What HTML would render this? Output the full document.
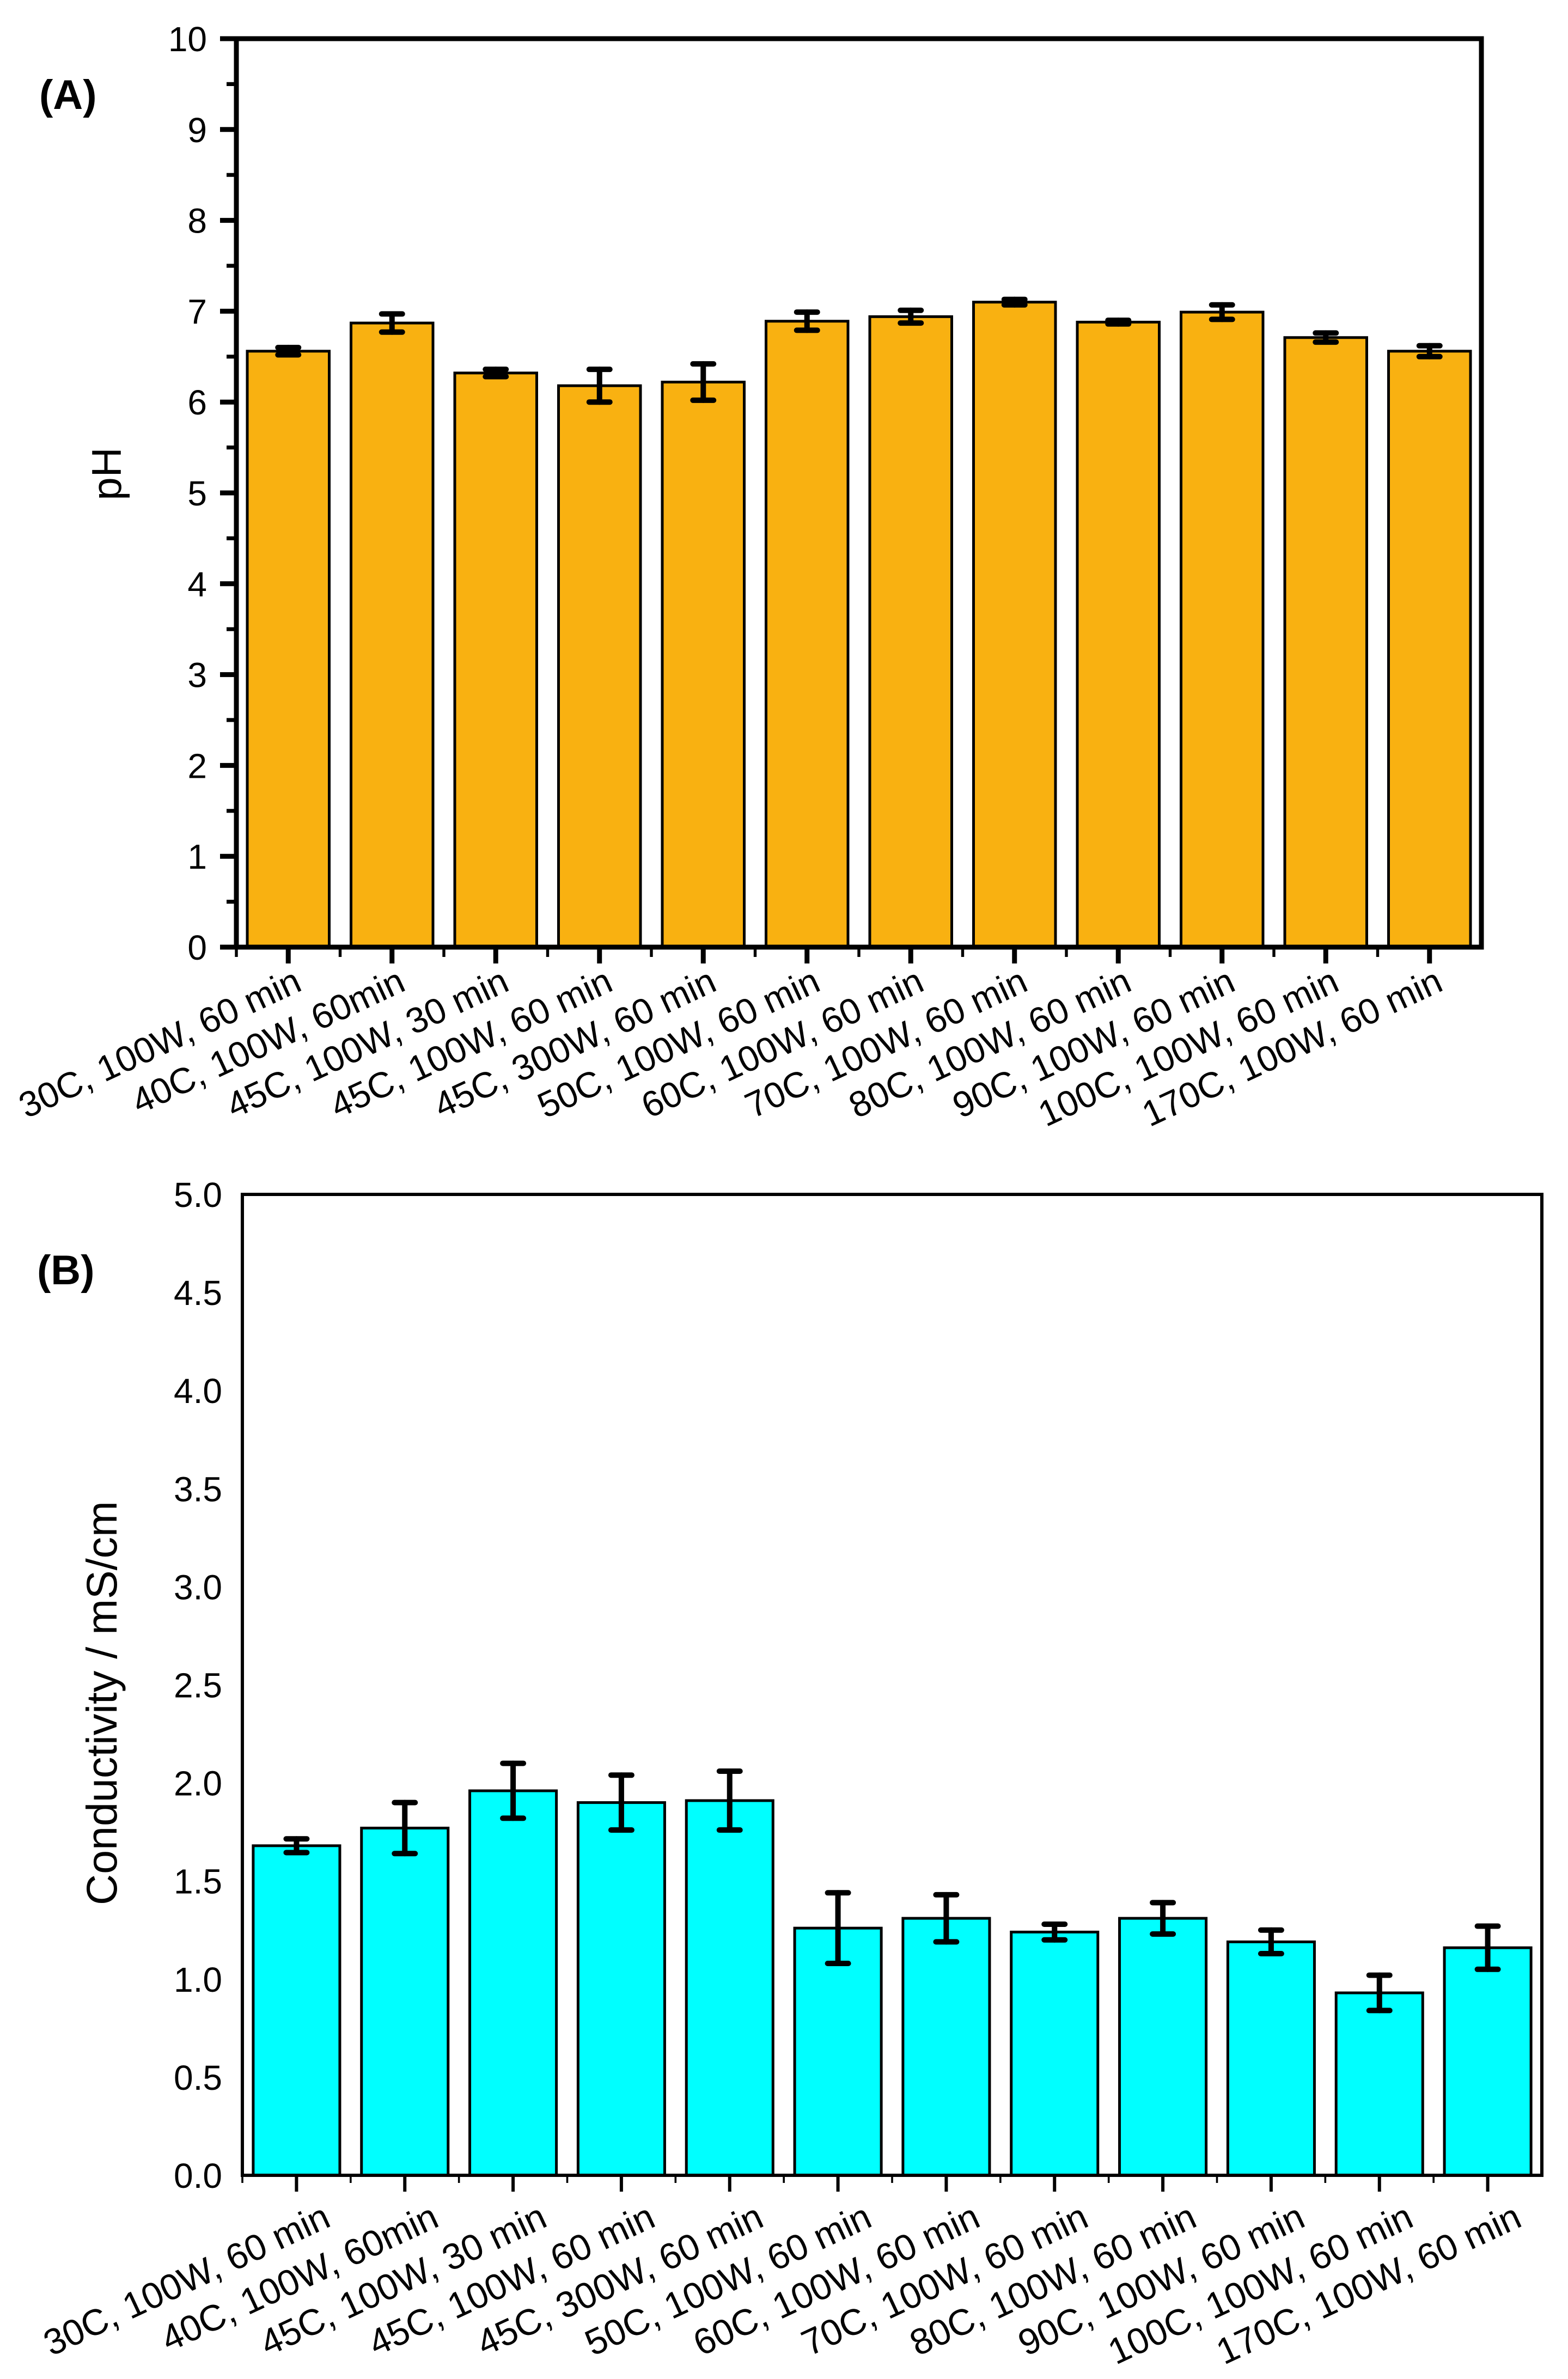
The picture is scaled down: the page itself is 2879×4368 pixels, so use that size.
<!DOCTYPE html>
<html><head><meta charset="utf-8"><style>
html,body{margin:0;padding:0;background:#fff;}
svg{display:block;font-family:"Liberation Sans",Arial,sans-serif;}
</style></head><body>
<svg id="fig" width="2879" height="4368" viewBox="0 0 2879 4368" xmlns="http://www.w3.org/2000/svg">
<g id="pa"></g>
<g id="pb"></g>
</svg>
<script>
const categories = ["30C, 100W, 60 min","40C, 100W, 60min","45C, 100W, 30 min","45C, 100W, 60 min","45C, 300W, 60 min","50C, 100W, 60 min","60C, 100W, 60 min","70C, 100W, 60 min","80C, 100W, 60 min","90C, 100W, 60 min","100C, 100W, 60 min","170C, 100W, 60 min"];
const phValues = [6.56,6.87,6.32,6.18,6.22,6.89,6.94,7.10,6.88,6.99,6.71,6.56];
const phErrors = [0.04,0.10,0.04,0.18,0.20,0.10,0.07,0.03,0.02,0.08,0.05,0.06];
const phTicks = ["0","1","2","3","4","5","6","7","8","9","10"];
const condValues = [1.68,1.77,1.96,1.90,1.91,1.26,1.31,1.24,1.31,1.19,0.93,1.16];
const condErrors = [0.035,0.13,0.14,0.14,0.15,0.18,0.12,0.04,0.08,0.06,0.09,0.11];
const condTicks = ["0.0","0.5","1.0","1.5","2.0","2.5","3.0","3.5","4.0","4.5","5.0"];

const NS="http://www.w3.org/2000/svg";
function mk(parent,tag,attrs,text){const e=document.createElementNS(NS,tag);for(const k in attrs)e.setAttribute(k,attrs[k]);if(text!==undefined)e.textContent=text;parent.appendChild(e);return e;}

function drawChart(g,cfg,values,errors,ticks){
  const n=values.length;
  const pitch=(cfg.x1-cfg.x0)/n;
  const xc=i=>cfg.x0+pitch*(i+0.5);
  const yv=v=>cfg.y0-(v-cfg.vmin)/(cfg.vmax-cfg.vmin)*(cfg.y0-cfg.y1);
  for(let i=0;i<n;i++){
    const bw=pitch*cfg.bwFrac;
    const r=mk(g,'rect',{x:xc(i)-bw/2,y:yv(values[i]),width:bw,height:cfg.y0-yv(values[i]),fill:cfg.color,stroke:'#000','stroke-width':cfg.barStroke});
    
    
  }
  for(let i=0;i<n;i++){
    const eg=mk(g,'g',{stroke:'#000','stroke-width':cfg.errW,'stroke-linecap':'round'});
    
    
    const t=yv(values[i]+errors[i]),b=yv(values[i]-errors[i]),x=xc(i);
    mk(eg,'line',{x1:x,y1:t,x2:x,y2:b});
    mk(eg,'line',{x1:x-cfg.cap,y1:t,x2:x+cfg.cap,y2:t});
    mk(eg,'line',{x1:x-cfg.cap,y1:b,x2:x+cfg.cap,y2:b});
  }
  const fr=mk(g,'rect',{x:cfg.x0,y:cfg.y1,width:cfg.x1-cfg.x0,height:cfg.y0-cfg.y1,fill:'none',stroke:'#000','stroke-width':cfg.axisW});
  
  
  const step=(cfg.vmax-cfg.vmin)/(ticks.length-1);
  for(let k=0;k<ticks.length;k++){
    const v=cfg.vmin+k*step,y=yv(v);
    if(cfg.yTicks){
      mk(g,'line',{x1:cfg.x0-cfg.majLen,y1:y,x2:cfg.x0,y2:y,stroke:'#000','stroke-width':cfg.axisW});
      if(k<ticks.length-1){const ym=yv(v+step/2);mk(g,'line',{x1:cfg.x0-cfg.minLen,y1:ym,x2:cfg.x0,y2:ym,stroke:'#000','stroke-width':cfg.axisW*0.8});}
    }
    const t=mk(g,'text',{x:cfg.yLabX,y:y+cfg.fs*0.36,'text-anchor':'end','font-size':cfg.fs,fill:'#000'},ticks[k]);
    
    
  }
  for(let i=0;i<n;i++){
    const x=xc(i);
    mk(g,'line',{x1:x,y1:cfg.y0,x2:x,y2:cfg.y0+cfg.majLen,stroke:'#000','stroke-width':cfg.axisW});
    const xb=cfg.x0+pitch*i;
    mk(g,'line',{x1:xb,y1:cfg.y0,x2:xb,y2:cfg.y0+cfg.minLen,stroke:'#000','stroke-width':cfg.axisW*0.6});
    const ax=x+cfg.labDx,ay=cfg.y0+cfg.labDy;
    const t=mk(g,'text',{x:ax,y:ay,'text-anchor':'end','font-size':cfg.xfs,fill:'#000',transform:`rotate(-25 ${ax} ${ay})`},categories[i]);
    
    
  }
}

const ga=document.getElementById('pa');
drawChart(ga,{x0:434,x1:2720,y0:1739,y1:71,vmin:0,vmax:10,color:'#F9B111',bwFrac:0.79,barStroke:5,errW:10,cap:19,axisW:9,majLen:30,minLen:18,yTicks:true,yLabX:380,fs:64,xfs:66,labDx:28,labDy:78},phValues,phErrors,phTicks);
const gb=document.getElementById('pb');
drawChart(gb,{x0:445,x1:2831,y0:3994,y1:2193,vmin:0,vmax:5,color:'#00FFFF',bwFrac:0.8,barStroke:5,errW:10,cap:19,axisW:6,majLen:30,minLen:14,yTicks:false,yLabX:408,fs:64,xfs:67,labDx:66,labDy:92},condValues,condErrors,condTicks);
</script>
<svg style="position:absolute;left:0;top:0" width="2879" height="4368" viewBox="0 0 2879 4368" xmlns="http://www.w3.org/2000/svg">
<text x="72" y="200" font-family="Liberation Sans, sans-serif" font-weight="bold" font-size="76">(A)</text>
<text x="68" y="2358" font-family="Liberation Sans, sans-serif" font-weight="bold" font-size="76">(B)</text>
<text x="0" y="0" transform="translate(222 870) rotate(-90)" text-anchor="middle" font-family="Liberation Sans, sans-serif" font-size="76">pH</text>
<text x="0" y="0" transform="translate(214 3127) rotate(-90)" text-anchor="middle" font-family="Liberation Sans, sans-serif" font-size="79">Conductivity / mS/cm</text>
</svg>
</body></html>
